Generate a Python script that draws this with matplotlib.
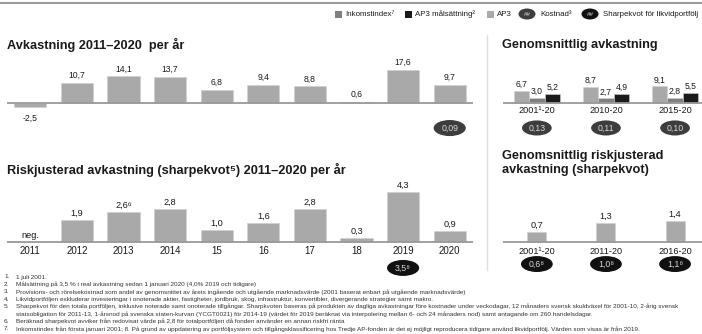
import matplotlib
matplotlib.use('Agg')
import matplotlib.pyplot as plt
from matplotlib.patches import Ellipse, Rectangle
from matplotlib.lines import Line2D
import numpy as np

plt.rcParams['font.family'] = ['Liberation Sans', 'DejaVu Sans']

# Data
years = ['2011', '2012', '2013', '2014', '15', '16', '17', '18', '2019', '2020']
returns = [-2.5, 10.7, 14.1, 13.7, 6.8, 9.4, 8.8, 0.6, 17.6, 9.7]
cost_years = ['2020']
cost_values = [0.09]

sharpe = [np.nan, 1.9, 2.6, 2.8, 1.0, 1.6, 2.8, 0.3, 4.3, 0.9]
sharpe_notes = ['', '', '⁶', '', '', '', '', '', '', '']
liquid_years = ['2019']
liquid_values = [3.5]

periods_ret = ['2001¹-20', '2010-20', '2015-20']
ap3_avg = [6.7, 8.7, 9.1]
income_avg = [3.0, 2.7, 2.8]
target_avg = [5.2, 4.9, 5.5]
cost_avg = [0.13, 0.11, 0.10]

periods_sharpe = ['2001¹-20', '2011-20', '2016-20']
sharpe_avg = [0.7, 1.3, 1.4]
liquid_avg = [0.6, 1.0, 1.1]

footnotes = [
    ('1.', '1 juli 2001.'),
    ('2.', 'Målsättning på 3,5 % i real avkastning sedan 1 januari 2020 (4,0% 2019 och tidigare)'),
    ('3.', 'Provisions- och rörelsekostnad som andel av genomsnittet av årets ingående och utgående marknadsvärde (2001 baserat enbart på utgående marknadsvärde)'),
    ('4.', 'Likvidportföljen exkluderar investeringar i onoterade aktier, fastigheter, jordbruk, skog, infrastruktur, konvertibler, divergerande strategier samt makro.'),
    ('5.', 'Sharpekvot för den totala portföljen, inklusive noterade samt onoterade tillgångar. Sharpkvoten baseras på produkten av dagliga avkastningar före kostnader under veckodagar, 12 månaders svensk skuldväxel för 2001-10, 2-årig svensk'),
    ('', 'statsobligation för 2011-13, 1-årsnod på svenska staten-kurvan (YCGT0021) för 2014-19 (värdet för 2019 beräknat via interpolering mellan 6- och 24 månaders nod) samt antagande om 260 handelsdagar.'),
    ('6.', 'Beräknad sharpekvot avviker från redovisat värde på 2,8 för totalportföljen då fonden använder en annan riskfri ränta'),
    ('7.', 'Inkomstindex från första januari 2001; 8. På grund av uppdatering av portföljsystem och tillgångsklassificering hos Tredje AP-fonden är det ej möjligt reproducera tidigare använd likvidportfölj. Värden som visas är från 2019.'),
]

# Colours
AP3 = '#a9a9a9'
INCOME = '#7f7f7f'
TARGET = '#1a1a1a'
COST = '#3d3d3d'
SHARPE_BG = '#111111'
BASE = '#9a9a9a'
TXT = '#1a1a1a'

W, H = 702, 334
fig = plt.figure(figsize=(W / 100, H / 100), dpi=100)


def px_axes(left, top, right, bottom):
    ax = fig.add_axes([left / W, 1 - bottom / H, (right - left) / W, (bottom - top) / H])
    ax.axis('off')
    return ax


def fmt(v, dec=1):
    return f'{v:.{dec}f}'.replace('.', ',')


def oval(ax, x, y, w, h, text, fc, fs=6.3):
    ax.add_patch(Ellipse((x, y), w, h, facecolor=fc, edgecolor='none', clip_on=False))
    ax.text(x, y, text, ha='center', va='center', fontsize=fs, color='#d8d8d8', clip_on=False)


def fig_text(x, y, s, **kw):
    fig.text(x / W, 1 - y / H, s, **kw)


# top rule and separator
fig.add_artist(Line2D([0, 1], [1 - 2.5 / H] * 2, color='#9a9a9a', lw=1.5, transform=fig.transFigure))
fig.add_artist(Line2D([487 / W] * 2, [1 - 35 / H, 1 - 270 / H], color='#dedede', lw=1, transform=fig.transFigure))

# legend
ly = 14
legend_items = [
    (338, 'sq', INCOME, 'Inkomstindex⁷'),
    (408, 'sq', TARGET, 'AP3 målsättning²'),
    (490, 'sq', AP3, 'AP3'),
    (527, 'ov', COST, 'Kostnad³'),
    (590, 'ov', SHARPE_BG, 'Sharpekvot för likvidportfölj'),
]
for x, kind, col, lab in legend_items:
    if kind == 'sq':
        fig.add_artist(Rectangle(((x - 3.5) / W, 1 - (ly + 3.5) / H), 7 / W, 7 / H,
                                 facecolor=col, edgecolor='none', transform=fig.transFigure))
        fig_text(x + 7, ly, lab, fontsize=5.7, va='center', color=TXT)
    else:
        fig.add_artist(Ellipse((x / W, 1 - ly / H), 17 / W, 11 / H, facecolor=col,
                               edgecolor='none', transform=fig.transFigure))
        fig_text(x, ly, '##', fontsize=4.5, va='center', ha='center', color='#cccccc')
        fig_text(x + 13, ly, lab, fontsize=5.7, va='center', color=TXT)

# titles
fig_text(7, 45, 'Avkastning 2011–2020  per år', fontsize=9.2, fontweight='bold', va='center', color=TXT)
fig_text(7, 170, 'Riskjusterad avkastning (sharpekvot⁵) 2011–2020 per år', fontsize=9.2,
         fontweight='bold', va='center', color=TXT)
fig_text(502, 45, 'Genomsnittlig avkastning', fontsize=9.2, fontweight='bold', va='center', color=TXT)
fig_text(502, 163, 'Genomsnittlig riskjusterad\navkastning (sharpekvot)', fontsize=9.2,
         fontweight='bold', va='center', color=TXT, linespacing=1.25)

# --- returns per year
ax1 = px_axes(7, 55, 473, 140)
ax1.set_xlim(-0.5, 9.5)
ax1.set_ylim(-20, 25.5)
x = np.arange(len(years))
ax1.bar(x, returns, width=0.69, color=AP3, edgecolor='#d0d0d0', linewidth=0.5, zorder=2)
ax1.axhline(0, color=BASE, lw=1.3, zorder=3)
for xi, v in zip(x, returns):
    if v >= 0:
        ax1.text(xi, v + 1.5, fmt(v), ha='center', va='bottom', fontsize=6.2, color=TXT)
    else:
        ax1.text(xi, v - 3.5, fmt(v), ha='center', va='top', fontsize=6.2, color=TXT)
for yr, c in zip(cost_years, cost_values):
    oval(ax1, years.index(yr), -13.6, 0.69, 8.6, fmt(c, 2), COST)

# --- sharpe per year
ax2 = px_axes(7, 185, 473, 280)
ax2.set_xlim(-0.5, 9.5)
ax2.set_ylim(-3.3, 4.9)
ax2.bar(x, np.nan_to_num(sharpe), width=0.69, color=AP3, edgecolor='#d0d0d0', linewidth=0.5, zorder=2)
ax2.axhline(0, color=BASE, lw=1.3, zorder=3)
for xi, v, n in zip(x, sharpe, sharpe_notes):
    if np.isnan(v):
        ax2.text(xi, 0.12, 'neg.', ha='center', va='bottom', fontsize=6.6, color=TXT)
    else:
        ax2.text(xi, v + 0.2, fmt(v) + n, ha='center', va='bottom', fontsize=6.6, color=TXT)
    ax2.text(xi, -0.8, years[xi], ha='center', va='center', fontsize=7, color=TXT)
for yr, v in zip(liquid_years, liquid_values):
    oval(ax2, years.index(yr), -2.26, 0.69, 1.38, fmt(v) + '⁸', SHARPE_BG)

# --- average returns
ax3 = px_axes(503, 55, 702, 140)
ax3.set_xlim(-0.49, 2.39)
ax3.set_ylim(-19.5, 25.7)
g = np.arange(len(periods_ret))
bw = 0.225
for off, vals, col in [(-bw, ap3_avg, AP3), (0, income_avg, INCOME), (bw, target_avg, TARGET)]:
    ax3.bar(g + off, vals, width=bw, color=col, edgecolor='#d0d0d0', linewidth=0.4, zorder=2)
    for gi, v in zip(g, vals):
        ax3.text(gi + off, v + 1.0, fmt(v), ha='center', va='bottom', fontsize=6.2, color=TXT)
ax3.axhline(0, color=BASE, lw=1.3, zorder=3)
for gi, lab, c in zip(g, periods_ret, cost_avg):
    ax3.text(gi, -3.9, lab, ha='center', va='center', fontsize=6.6, color=TXT)
    oval(ax3, gi, -13.1, 0.43, 8.0, fmt(c, 2), COST)

# --- average sharpe
ax4 = px_axes(503, 185, 702, 280)
ax4.set_xlim(-0.49, 2.39)
ax4.set_ylim(-2.64, 3.91)
ax4.bar(g, sharpe_avg, width=0.275, color=AP3, edgecolor='#d0d0d0', linewidth=0.5, zorder=2)
ax4.axhline(0, color=BASE, lw=1.3, zorder=3)
for gi, lab, v, lq in zip(g, periods_sharpe, sharpe_avg, liquid_avg):
    ax4.text(gi, v + 0.15, fmt(v), ha='center', va='bottom', fontsize=6.6, color=TXT)
    ax4.text(gi, -0.69, lab, ha='center', va='center', fontsize=6.6, color=TXT)
    oval(ax4, gi, -1.54, 0.46, 1.1, fmt(lq) + '⁸', SHARPE_BG)

# footnotes
for i, (num, txt) in enumerate(footnotes):
    y = 277 + i * 7.4
    fig_text(4, y, num, fontsize=4.6, va='center', color='#333333')
    fig_text(16, y, txt, fontsize=4.6, va='center', color='#333333')

fig.savefig('out.png', dpi=100)
